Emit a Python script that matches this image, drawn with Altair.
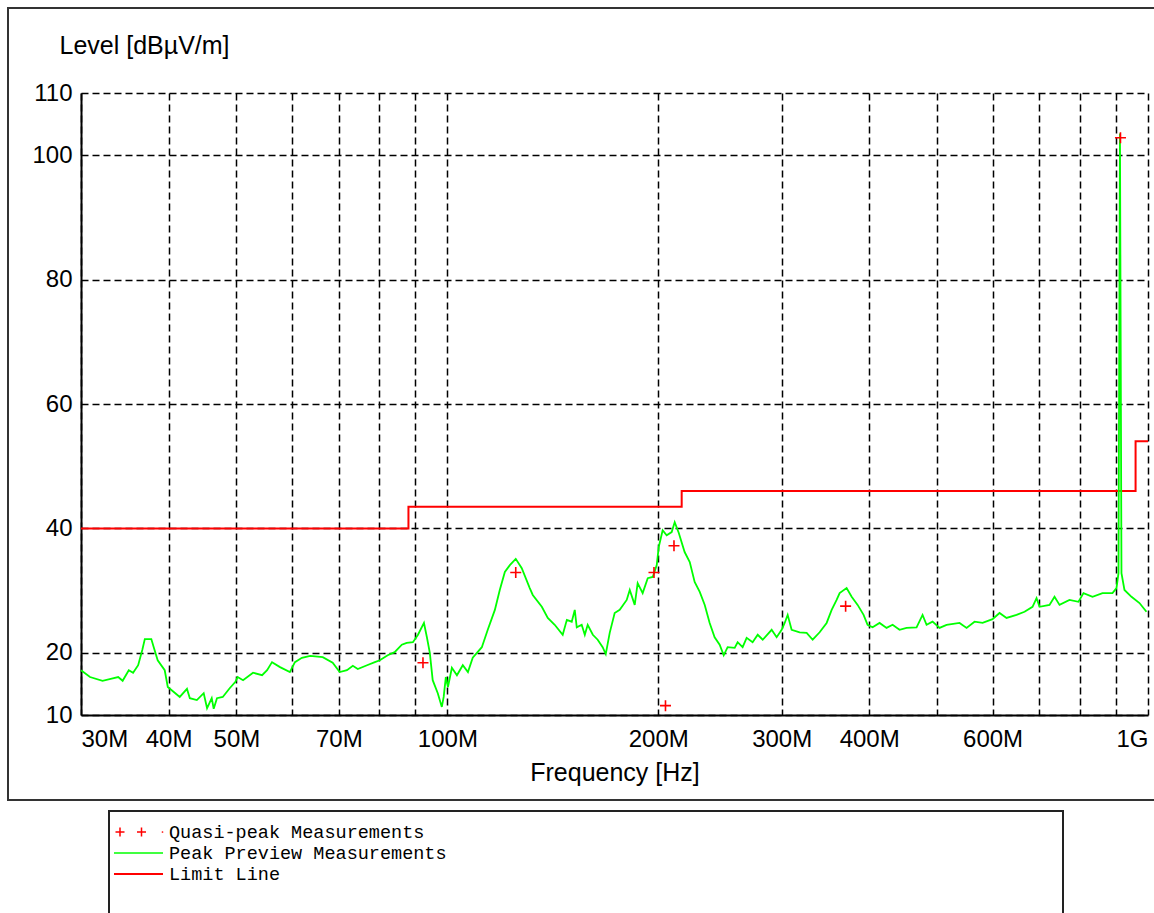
import altair as alt
import pandas as pd

# Peak preview scan: frequency in MHz, level in dBµV/m
peak_mhz = [
    30.0, 30.9, 32.2, 33.3, 33.9, 34.4, 35.1, 35.6, 36.2, 36.7,
    37.0, 37.8, 38.1, 38.6, 39.5, 39.9, 40.9, 41.5, 42.5, 42.9,
    43.9, 44.9, 45.4, 46.1, 46.4, 46.9, 47.8, 48.9, 49.8, 50.2,
    51.1, 52.8, 54.4, 55.3, 56.2, 57.7, 59.6, 60.6, 62.0, 63.7,
    66.4, 68.6, 70.2, 71.9, 73.3, 74.5, 76.8, 78.8, 80.1, 82.2,
    84.1, 86.1, 87.5, 89.3, 90.8, 92.6, 93.5, 94.4, 95.3, 96.9,
    98.2, 98.8, 99.5, 100.2, 101.5, 103.2, 105.2, 107.0, 108.7, 112.0,
    114.2, 116.9, 118.8, 120.8, 122.8, 125.2, 127.7, 131.1, 132.4, 136.4,
    139.1, 142.3, 146.1, 148.1, 150.5, 152.0, 153.0, 155.5, 157.1, 158.6,
    161.3, 163.9, 166.6, 168.3, 170.5, 173.3, 176.2, 180.3, 182.1, 185.1,
    186.9, 190.0, 193.2, 196.4, 199.0, 200.3, 202.9, 205.6, 209.0, 211.1,
    213.9, 218.1, 221.8, 225.4, 229.2, 233.0, 236.8, 240.7, 244.7, 248.0,
    251.2, 257.1, 259.6, 263.9, 267.4, 272.7, 277.3, 281.9, 290.3, 295.1,
    300.0, 303.0, 306.0, 310.0, 318.3, 325.7, 332.2, 339.9, 347.8, 353.6,
    359.4, 363.0, 371.4, 377.6, 385.1, 392.7, 397.9, 404.5, 413.9, 423.5,
    432.0, 442.0, 452.3, 467.4, 476.7, 483.0, 492.6, 504.1, 515.8, 538.3,
    550.9, 565.5, 580.6, 600.0, 613.9, 628.2, 649.2, 666.5, 684.2, 693.3,
    700.1, 723.5, 735.5, 747.7, 772.6, 795.8, 809.0, 833.3, 861.1, 889.9,
    901.6, 907.6, 912.0, 916.5, 925.6, 947.2, 972.4, 995.0,
]
peak_db = [
    17.2, 16.1, 15.5, 15.9, 16.1, 15.5, 17.2, 16.8, 18.0, 20.5,
    22.2, 22.2, 20.9, 18.8, 17.2, 14.5, 13.5, 12.9, 14.2, 12.7,
    12.4, 13.5, 11.1, 12.7, 11.0, 12.7, 12.9, 14.3, 15.3, 16.1,
    15.6, 16.8, 16.4, 17.2, 18.5, 17.7, 16.9, 18.5, 19.2, 19.5,
    19.3, 18.4, 16.9, 17.2, 17.9, 17.4, 18.0, 18.5, 18.8, 19.6,
    20.1, 21.3, 21.6, 21.7, 22.9, 24.8, 22.5, 20.0, 15.6, 13.5,
    11.3, 12.9, 16.1, 14.5, 17.6, 16.4, 18.0, 16.9, 19.2, 20.9,
    23.7, 26.9, 30.1, 33.0, 34.1, 35.1, 33.6, 30.4, 29.3, 27.4,
    25.6, 24.5, 22.9, 25.3, 25.0, 26.9, 24.1, 24.5, 22.9, 24.5,
    22.9, 22.1, 20.9, 19.8, 23.2, 26.4, 26.9, 28.5, 30.1, 27.7,
    31.2, 29.6, 32.0, 32.2, 34.1, 37.0, 39.7, 38.9, 39.4, 41.0,
    39.3, 36.2, 34.6, 31.4, 29.8, 27.7, 24.8, 22.5, 21.3, 19.6,
    20.9, 20.8, 21.7, 20.9, 22.4, 21.7, 22.9, 22.1, 23.7, 22.5,
    23.7, 24.8, 26.1, 23.7, 23.3, 23.2, 22.1, 23.3, 24.8, 26.9,
    28.5, 29.6, 30.4, 29.0, 27.7, 26.1, 24.5, 24.1, 24.8, 24.0,
    24.5, 23.7, 24.0, 24.1, 26.1, 24.5, 25.0, 24.0, 24.5, 24.8,
    24.0, 25.0, 24.8, 25.4, 26.4, 25.6, 26.1, 26.6, 27.4, 28.8,
    27.4, 27.7, 29.0, 27.7, 28.5, 28.2, 29.6, 29.0, 29.6, 29.6,
    30.4, 32.8, 103.5, 32.8, 30.1, 29.0, 28.0, 26.6,
]

# Quasi-peak re-measurements
qp_mhz = [92.3, 125.2, 197.2, 204.8, 210.6, 370.2, 913.5]
qp_db = [18.4, 32.9, 32.9, 11.5, 37.2, 27.5, 102.8]

# Limit line breakpoints (held until the next breakpoint)
limit_mhz = [30, 88, 216, 960, 1000]
limit_db = [40, 43.5, 46, 54, 54]

# Axis ticks
grid_mhz = [30, 40, 50, 60, 70, 80, 90, 100, 200, 300, 400, 500, 600, 700, 800, 900, 1000]
labelled_mhz = [30, 40, 50, 70, 100, 200, 300, 400, 600, 1000]
level_ticks = [10, 20, 40, 60, 80, 100, 110]

legend_labels = ["Quasi-peak Measurements", "Peak Preview Measurements", "Limit Line"]

SANS = "Liberation Sans, Arial, sans-serif"
MONO = "Liberation Mono, Courier New, monospace"
RED = "#ff0000"
GREEN = "#00ff00"
PLUS = "M-1,0L1,0M0,-1L0,1"

peak_df = pd.DataFrame({"f": peak_mhz, "L": peak_db})
qp_df = pd.DataFrame({"f": qp_mhz, "L": qp_db})
limit_df = pd.DataFrame({"f": limit_mhz, "L": limit_db})

label_expr = (
    "indexof([" + ",".join(str(v) for v in labelled_mhz) + "], datum.value) < 0 ? '' : "
    "(datum.value >= 1000 ? '1G' : datum.value + 'M')"
)

x_enc = alt.X(
    "f:Q",
    scale=alt.Scale(type="log", domain=[30, 1000], nice=False),
    axis=alt.Axis(
        values=grid_mhz,
        labelExpr=label_expr,
        labelFlush=True,
        labelOverlap=False,
        labelPadding=12,
        labelFontSize=24,
        labelFont=SANS,
        labelColor="black",
        ticks=False,
        domainColor="black",
        domainWidth=2,
        grid=True,
        gridColor="black",
        gridDash=[7, 4],
        gridWidth=1.5,
        gridOpacity=1,
        title="Frequency [Hz]",
        titleFont=SANS,
        titleFontSize=25,
        titleFontWeight="normal",
        titleColor="black",
        titleBaseline="alphabetic",
        titleY=65,
    ),
)

y_enc = alt.Y(
    "L:Q",
    scale=alt.Scale(domain=[10, 110], nice=False, zero=False),
    axis=alt.Axis(
        values=level_ticks,
        labelPadding=9,
        labelFontSize=24,
        labelFont=SANS,
        labelColor="black",
        ticks=False,
        domainColor="black",
        domainWidth=2,
        grid=True,
        gridColor="black",
        gridDash=[7, 4],
        gridWidth=1.5,
        gridOpacity=1,
        title="Level [dBµV/m]",
        titleFont=SANS,
        titleFontSize=25,
        titleFontWeight="normal",
        titleColor="black",
        titleAngle=0,
        titleAlign="left",
        titleBaseline="alphabetic",
        titleX=-22,
        titleY=-40,
    ),
)

limit_line = alt.Chart(limit_df).mark_line(
    color=RED, strokeWidth=2, interpolate="step-after"
).encode(x=x_enc, y=y_enc)

peak_line = alt.Chart(peak_df).mark_line(
    color=GREEN, strokeWidth=1.8
).encode(x=x_enc, y=y_enc)

qp_marks = alt.Chart(qp_df).mark_point(
    shape=PLUS, size=121, stroke=RED, strokeWidth=1.6, filled=False, opacity=1
).encode(x=x_enc, y=y_enc)

one = pd.DataFrame({"k": [0]})

# Outer frame around the plot and the legend box below it
frame = alt.Chart(one).mark_rect(fillOpacity=0, stroke="#333333", strokeWidth=2).encode(
    x=alt.value(-73), x2=alt.value(1100), y=alt.value(-85), y2=alt.value(707)
)
legend_box = alt.Chart(one).mark_rect(fillOpacity=0, stroke="#222222", strokeWidth=2).encode(
    x=alt.value(28), x2=alt.value(982), y=alt.value(718), y2=alt.value(860)
)

legend_layers = [frame, legend_box]
row_y = [739, 760, 781]
for label, yy in zip(legend_labels, row_y):
    legend_layers.append(
        alt.Chart(one).mark_text(
            text=label, align="left", baseline="middle", font=MONO, fontSize=18.5, color="black"
        ).encode(x=alt.value(88), y=alt.value(yy))
    )

for xx in (39, 60.5):
    legend_layers.append(
        alt.Chart(one).mark_point(
            shape=PLUS, size=81, stroke=RED, strokeWidth=1.5, filled=False, opacity=1
        ).encode(x=alt.value(xx), y=alt.value(739))
    )
legend_layers.append(
    alt.Chart(one).mark_point(shape="circle", size=3, filled=True, color=RED, opacity=1).encode(
        x=alt.value(81.5), y=alt.value(739)
    )
)
legend_layers.append(
    alt.Chart(one).mark_rule(color=GREEN, strokeWidth=1.6).encode(
        x=alt.value(33), x2=alt.value(82), y=alt.value(760)
    )
)
legend_layers.append(
    alt.Chart(one).mark_rule(color=RED, strokeWidth=2.2).encode(
        x=alt.value(33), x2=alt.value(82), y=alt.value(781)
    )
)

chart = alt.layer(
    limit_line, peak_line, qp_marks, *legend_layers
).properties(
    width=1067,
    height=622,
    padding={"left": 81, "top": 93, "right": 6, "bottom": 198},
    autosize=alt.AutoSizeParams(type="none"),
    background="white",
).configure_view(strokeWidth=0)

chart.save("out.html", embed_options={"renderer": "svg", "actions": False})
